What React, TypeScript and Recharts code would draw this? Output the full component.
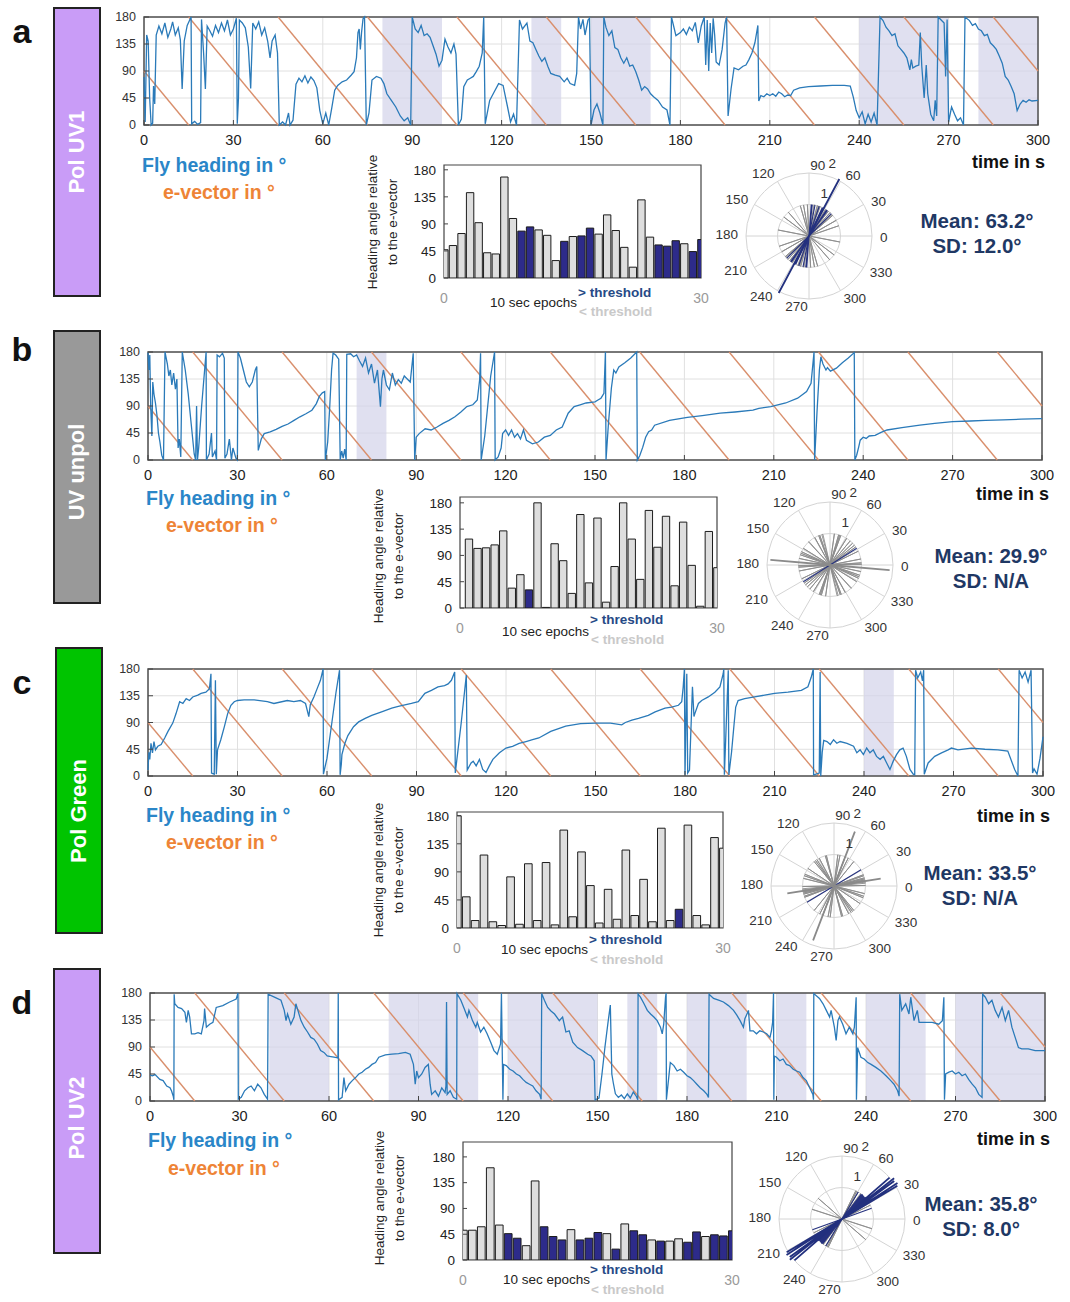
import React from "react"
import {
  LineChart, Line, XAxis, YAxis, CartesianGrid, ReferenceArea, ReferenceLine,
  BarChart, Bar, Cell, RadarChart, Radar, PolarGrid, PolarAngleAxis, PolarRadiusAxis,
} from "recharts"

const FONT = '"Liberation Sans", Arial, Helvetica, sans-serif'
const HEADING_BLUE = "#2a7ab9"
const EVEC_ORANGE = "#d98f6c"
const SHADE = "#d3d3ea"
const NAVY_BAR = "#2d2b8a"
const LIGHT_BAR = "#dedede"
const TEXT_NAVY = "#1f3864"
const PURPLE = "#c99cf7"

const timeTicks = [0, 30, 60, 90, 120, 150, 180, 210, 240, 270, 300]
const angleTicks = [0, 45, 90, 135, 180]
const spokes = [0, 30, 60, 90, 120, 150, 180, 210, 240, 270, 300, 330]

// e-vector sawtooth, same in every panel: [tStart, degStart, tEnd, degEnd]
const eVector = [
  [0, 90, 15, 0], [15, 180, 45, 0], [45, 180, 75, 0], [75, 180, 105, 0],
  [105, 180, 135, 0], [135, 180, 165, 0], [165, 180, 195, 0], [195, 180, 225, 0],
  [225, 180, 255, 0], [255, 180, 285, 0], [285, 180, 300, 90],
]

// fly heading [t (s), deg]
const headingA = [
  [0,80],[0.4,5],[0.9,150],[1.4,140],[1.9,45],[2.4,0],[2.9,3],[3.2,65],[3.6,35],[4.1,150],[5,165],[6,152],[7,170],[8,146],[9,160],[9.6,172],[10.5,150],[11.5,162],[12.2,142],[12.8,60],[13.5,140],[14.5,166],[15.8,180],[16,2],[17,6],[18,1],[19,4],[19.3,176],[20,120],[20.6,60],[21.2,165],[22,158],[23,148],[24,166],[25,154],[26,170],[27,157],[28,175],[29,150],[30,160],[31,178],[31.3,2],[31.7,45],[32,175],[33,170],[34,162],[35,130],[35.8,61],[36.5,170],[37.5,160],[38.5,172],[39.5,150],[40.5,162],[41.5,140],[42.3,112],[43,140],[44,150],[44.8,120],[45.4,0],[46.5,5],[47.5,0],[48.5,20],[49,0],[50,8],[51,68],[52,78],[53,72],[54,82],[55,70],[56,80],[57,74],[58,62],[59,24],[60,2],[61,20],[62,0],[63,28],[64,58],[65,66],[66.5,72],[68,75],[69.5,83],[70.5,89],[71.3,112],[71.8,154],[72.2,160],[72.6,126],[73,154],[73.5,177],[74,180],[74.6,0],[75.5,20],[76.5,75],[78,81],[79.5,78],[80.5,69],[81.5,52],[83,41],[84.5,30],[86,15],[87.3,7],[88.5,12],[89.5,0],[90,180],[91,160],[92,154],[93,166],[94,149],[95,152],[96,146],[97,132],[98,118],[99,98],[100,108],[101,143],[102,130],[103,120],[104,135],[104.7,118],[105.5,0],[106.5,10],[107.3,64],[108.5,75],[109.5,78],[110.5,81],[111.5,89],[112.5,98],[113.5,120],[114,180],[114.5,2],[116,41],[117.5,55],[119,69],[120.5,66],[122,30],[123,5],[124,18],[125,0],[126,175],[127,160],[128.5,170],[129.5,140],[130.5,137],[131.5,126],[132.5,115],[133.5,106],[134.5,112],[135.5,98],[136.5,86],[138,83],[139.5,81],[141,72],[142,78],[143,69],[144.5,66],[145.2,86],[145.8,180],[146.5,160],[147.3,176],[148,150],[149,175],[149.5,178],[150,0],[151,25],[152,35],[153,20],[154,0],[154.3,180],[155,163],[156,149],[157,157],[158,129],[159,126],[160,112],[161,103],[162,112],[163,98],[164,100],[165,89],[166,75],[167,58],[168,64],[169,60],[170,52],[171,47],[172.5,41],[174,30],[175.5,25],[176.5,0],[177,180],[178.5,149],[180,154],[181,160],[182,151],[183,163],[184,157],[185,171],[186,137],[187,165],[188,180],[188.5,100],[189,175],[189.5,90],[190,170],[190.5,120],[191,178],[191.5,150],[192,105],[193,100],[194,126],[195,170],[195.5,180],[196,15],[197,60],[198,95],[199.5,92],[201,98],[202,100],[203,109],[204,120],[205,137],[206,166],[206.3,40],[207,49],[208,47],[209,52],[210,49],[211,52],[212,48],[213,55],[214,52],[215,47],[216,50],[217,49],[218,58],[220,62],[223,64],[227,65],[231,66],[235,66],[237,65],[238,47],[239,24],[240,12],[241,22],[242,2],[243,18],[244,5],[245,20],[246,0],[247,180],[248,174],[249,163],[250,157],[251,149],[252,152],[253,132],[254,126],[255,120],[256,112],[257,92],[257.5,109],[258,95],[259,98],[260,100],[260.5,154],[261,98],[261.8,45],[262.5,100],[263,52],[264,18],[265,7],[265.5,41],[266,15],[266.5,180],[267.5,175],[268.5,170],[269,81],[269.5,176],[270,5],[271,30],[272,18],[273,7],[274,12],[275,0],[275.5,180],[277,174],[278,166],[279,169],[280,160],[281,157],[282,149],[283,151],[284,137],[285,132],[286,126],[287,115],[288,103],[289,81],[290,75],[291,64],[292,52],[293,24],[294,35],[295,41],[296,38],[297,42],[298,40],[300,41],
]

const headingB = [
  [0,179],[0.3,150],[0.6,175],[0.9,90],[1.3,40],[1.6,130],[2,110],[2.5,95],[3,75],[3.5,45],[4,30],[4.6,8],[5.2,0],[5.7,180],[6.5,160],[7,140],[7.5,150],[8,125],[8.6,145],[9.2,118],[9.7,135],[10.1,20],[10.5,35],[11,5],[11.5,180],[12.5,150],[13.5,110],[14.5,60],[15.5,10],[16,0],[16.3,90],[16.6,0],[17,20],[18,90],[19,150],[19.5,180],[19.6,0],[20.5,10],[21.3,45],[21.6,5],[22.5,15],[23,0],[23.2,175],[24,172],[25,178],[25.6,170],[25.8,3],[26.5,10],[27.3,35],[28,0],[28.5,20],[29.5,3],[30,0],[30.2,180],[31,170],[32,150],[33,130],[34,122],[35,130],[36,150],[36.5,156],[37,16],[38,35],[39,44],[41,47],[43,51],[45,56],[47,60],[49,66],[51,72],[53,77],[55,83],[56.5,94],[57.5,106],[58.5,112],[59.3,114],[59.5,0],[60.3,30],[61,90],[61.6,150],[62.1,178],[63,175],[64,168],[64.5,0],[65,15],[65.5,3],[66,18],[66.5,0],[66.7,176],[68,177],[69,172],[70,175],[71,165],[72,156],[73,170],[74,145],[75,160],[76,128],[77,150],[78,89],[78.5,135],[79,150],[80,125],[81,117],[82,145],[83,125],[84,134],[85,128],[86,140],[87,135],[88,130],[89,178],[89.5,0],[90,38],[91,44],[93,52],[95,50],[97,55],[99,61],[101,66],[103,72],[105,80],[107,89],[109,92],[110.5,100],[111.3,134],[111.6,178],[111.8,0],[113,40],[114,90],[115,140],[116.3,180],[116.5,0],[117.5,5],[118.5,20],[119,44],[120,50],[121,41],[122,50],[123,38],[124,44],[125,35],[126,50],[127,33],[129,27],[131,30],[133,38],[135,41],[137,50],[139,55],[141,78],[143,89],[145,92],[147,95],[150,97],[151,100],[152,103],[153,111],[153.5,180],[153.7,0],[154.5,60],[155.5,120],[156.3,150],[157,145],[158,155],[160,162],[162,170],[164,180],[164.2,0],[165,7],[166,21],[167,38],[168,47],[169,50],[170,58],[175,66],[181,71],[186,74],[192,78],[197,80],[203,83],[205,86],[209,89],[214,95],[218,103],[221,114],[222.5,128],[223.5,180],[223.7,0],[224.5,80],[225.3,150],[225.8,172],[226.5,160],[227.5,150],[228,154],[229,148],[231,153],[233,162],[235,170],[237,179],[237.2,0],[237.8,8],[238.5,22],[239,33],[240,38],[241,36],[242,40],[244,41],[246,46],[248,50],[253,54],[259,58],[264,61],[270,64],[276,65],[281,66],[287,67],[293,68],[300,69],
]

const headingC = [
  [0,10],[0.3,40],[0.6,28],[1,55],[1.5,39],[2,58],[2.5,44],[3.3,50],[4.4,53],[5.6,64],[6.7,75],[8.3,89],[9.4,105],[10.6,125],[11.7,122],[12.8,130],[13.9,127],[15,133],[16.7,136],[17.8,139],[19.4,141],[20.6,147],[21.1,172],[21.3,5],[22.2,3],[22.6,161],[22.9,3],[23.3,44],[24.4,61],[25.6,83],[26.7,105],[27.8,119],[28.9,125],[30,127],[32.2,128],[35.6,128],[40,125],[42.2,122],[46.7,127],[48.9,125],[51.1,127],[52.8,122],[53.9,100],[54.4,120],[55.6,133],[56.7,147],[57.8,161],[58.7,180],[58.8,3],[60,30],[61.5,85],[63,140],[64.2,178],[64.4,2],[64.8,20],[65,36],[66,55],[67,68],[68.9,83],[70.6,91],[72.8,97],[75,102],[78.3,108],[81.7,114],[83.9,117],[88.3,122],[90.6,125],[92.8,139],[95,144],[97.2,150],[99.4,152],[100.6,155],[101.7,161],[102.8,175],[103,5],[105,90],[106.7,170],[107,10],[108.3,22],[109,25],[110,17],[111.1,28],[112.2,11],[113.3,6],[114.4,17],[115.6,28],[117.8,39],[120,47],[122.2,50],[124.4,55],[126.7,58],[128.9,61],[131,64],[135,75],[140,84],[145,88],[150,89],[155,89],[158.8,86],[160,90],[162.2,94],[164.4,97],[167.7,102],[170,108],[173.3,114],[175.5,116],[177.8,119],[178.9,125],[179.4,150],[179.8,180],[180,2],[180.6,172],[180.9,5],[181.5,10],[182.5,150],[183,100],[183.3,105],[184.5,122],[185.6,127],[187.8,133],[190,141],[191.7,150],[192.8,172],[193,180],[193.2,2],[194.5,178],[194.7,2],[195.6,40],[196.5,90],[197,116],[197.8,127],[200,130],[203.3,133],[206.7,136],[210,139],[214.5,141],[219,144],[221.2,150],[222.3,166],[223,180],[223.1,2],[225,5],[225.3,175],[225.5,0],[226,40],[226.5,60],[227.6,58],[228.7,53],[229.8,61],[230.9,55],[232,58],[234.3,55],[236.5,50],[237.6,39],[238.7,44],[239.8,36],[240.9,47],[242,39],[243.1,44],[244.2,33],[245.4,28],[246.5,33],[247.6,22],[248.7,11],[249.8,25],[250.9,36],[252,44],[253.1,47],[254.2,33],[255.4,11],[256.5,3],[257,2],[257.3,178],[258,165],[259,175],[259.6,160],[260,178],[260.2,3],[261.5,22],[263.7,33],[266,39],[268.2,44],[269.3,47],[271.5,44],[276,47],[280.5,45],[284.9,44],[288.2,42],[290.5,11],[291.6,0],[292,178],[293,165],[294,175],[295,158],[296,178],[296.5,5],[297,12],[298,3],[299,30],[300,66],
]

const headingD = [
  [0,43],[0.8,42],[1.7,44],[3.3,36],[4.4,34],[5.6,25],[6.7,22],[7.2,17],[7.8,8],[8,2],[8.1,178],[8.3,162],[9.4,156],[10.6,154],[11.7,148],[12.2,131],[12.8,151],[13.3,140],[13.9,112],[15,112],[16.1,114],[17.2,112],[18.1,134],[18.3,154],[18.9,123],[20,128],[21.1,131],[22.2,156],[24.4,159],[26.7,165],[28.9,170],[29.5,180],[29.6,3],[30.6,6],[31.7,17],[32.8,22],[33.9,25],[35,17],[36.1,28],[37.2,22],[38.3,11],[39.4,3],[39.6,178],[41.7,173],[43.9,168],[45,151],[45.6,134],[46.1,145],[47.2,128],[48.3,140],[48.9,162],[49.4,154],[50.6,134],[51.7,123],[52.8,115],[53.9,106],[55,103],[56.1,95],[57.2,84],[58.3,81],[59.4,75],[60.6,74],[61.7,73],[62.8,72],[63,74],[63.1,180],[63.2,2],[64.4,6],[65,39],[65.6,17],[66.7,28],[67.8,34],[68.9,39],[70,45],[71.1,48],[72.2,53],[73.3,56],[74.4,61],[75.6,64],[76.7,73],[78.9,77],[81.1,78],[83.3,79],[85.6,81],[87.2,78],[88.3,61],[88.9,28],[89.4,50],[90,39],[91.1,45],[92.2,56],[93.3,61],[93.9,28],[94.4,11],[95.6,17],[96.7,8],[97.8,22],[98.9,14],[99.2,25],[99.4,165],[99.6,11],[100.6,17],[101.7,6],[102.8,3],[102.9,179],[104.2,168],[105.3,154],[106.4,140],[106.9,151],[108.1,134],[109.2,123],[109.7,131],[110.8,115],[111.9,123],[113,112],[114.2,98],[115.3,84],[116.4,78],[117.5,95],[117.8,179],[118.3,2],[118.5,61],[119.4,59],[120.6,53],[121.7,50],[122.8,45],[123.9,42],[125,36],[126.1,31],[127.2,28],[128.3,25],[129.4,17],[130.6,11],[131.1,3],[131.3,179],[132.2,168],[133.3,156],[134.4,150],[135.6,145],[137.2,134],[138.3,140],[139.4,115],[140.5,117],[141.7,98],[143.3,89],[145,84],[146.7,78],[147.8,75],[148.9,67],[149.2,2],[150.5,5],[151.5,45],[152.5,90],[153.5,130],[154.3,160],[154.8,45],[155.3,30],[156,12],[157,6],[158,10],[159,4],[160,12],[161,5],[162,15],[163,8],[163.5,2],[163.6,178],[164.4,173],[165.6,162],[166.7,151],[167.8,145],[168.9,140],[170,134],[171.1,123],[171.7,112],[172.2,128],[172.8,173],[173,180],[173.1,2],[174.4,64],[175.6,59],[176.7,50],[177.8,53],[178.9,48],[180,42],[181.1,39],[182.2,34],[183.3,28],[184.4,22],[185.6,17],[186.7,11],[187.2,6],[187.4,178],[188.9,171],[190.6,168],[192.2,165],[193.9,159],[195.6,151],[196.7,143],[197.8,134],[198.9,123],[199.4,137],[200.6,151],[201.1,117],[202.2,117],[203.3,112],[204.4,117],[205.6,115],[206.7,112],[207.8,106],[208.3,117],[208.7,131],[208.9,162],[209,180],[209.1,2],[209.3,75],[210,73],[211.1,67],[212.2,70],[213.3,61],[214.4,59],[215.6,53],[216.7,50],[217.8,48],[218.9,39],[220,34],[221.1,22],[222.2,11],[222.4,2],[222.5,179],[224.4,171],[225.6,162],[226.7,151],[227.8,140],[228.3,151],[229.4,123],[230,101],[230.6,134],[231.1,140],[232.2,128],[233.3,112],[234.4,123],[235.6,112],[236.1,123],[236.7,173],[236.8,2],[237.2,89],[238.3,73],[239.4,70],[240.6,64],[241.7,61],[243.3,56],[245,50],[246.7,42],[248.3,34],[249.4,28],[250.6,17],[251.1,8],[251.3,178],[252,151],[253.3,162],[254.4,145],[255,173],[256.1,134],[257.2,151],[257.8,131],[258.9,131],[260,131],[262.2,131],[264.4,128],[265.6,134],[266.1,173],[266.3,2],[266.7,45],[267.8,48],[268.9,50],[270,45],[271.1,48],[272.2,42],[273.3,45],[274.4,36],[275.6,28],[276.7,22],[277.8,11],[278.9,6],[279.1,178],[280,173],[281.1,162],[282.2,168],[283.3,151],[284.4,140],[285.6,156],[286.7,134],[287.8,151],[288.9,123],[290,106],[291.1,89],[292.2,87],[294.4,87],[296.7,84],[300,84],
]

// shaded (above threshold) epochs [start, end] in s
const shadedA = [[80, 100], [130, 140], [150, 170], [240, 270], [280, 300]]
const shadedB = [[70, 80]]
const shadedC = [[240, 250]]
const shadedD = [[40, 60], [80, 110], [120, 150], [160, 170], [180, 200], [210, 220], [240, 260], [270, 300]]

// heading angle relative to the e-vector, per 10 s epoch (0..30)
const barsA = [47, 54, 74, 142, 92, 42, 40, 168, 99, 78, 85, 80, 71, 29, 61, 69, 70, 83, 73, 105, 79, 51, 18, 130, 68, 55, 53, 62, 57, 44, 64]
const flagsA = [0, 0, 0, 0, 0, 0, 0, 0, 0, 1, 1, 0, 0, 0, 1, 0, 1, 1, 0, 0, 0, 0, 0, 0, 0, 1, 1, 1, 0, 1, 1]
const barsB = [0, 118, 102, 103, 108, 132, 34, 57, 31, 180, 1, 110, 81, 25, 160, 43, 154, 10, 71, 180, 118, 49, 167, 104, 157, 38, 147, 73, 3, 131, 69]
const flagsB = [0, 0, 0, 0, 0, 0, 0, 0, 1, 0, 0, 0, 0, 0, 0, 0, 0, 0, 0, 0, 0, 0, 0, 0, 0, 0, 0, 0, 0, 0, 0]
const barsC = [180, 50, 12, 117, 10, 4, 82, 6, 103, 12, 105, 5, 157, 18, 122, 68, 8, 62, 14, 125, 20, 78, 10, 160, 12, 30, 165, 20, 5, 145, 128]
const flagsC = [0, 0, 0, 0, 0, 0, 0, 0, 0, 0, 0, 0, 0, 0, 0, 0, 0, 0, 0, 0, 0, 0, 0, 0, 0, 1, 0, 0, 0, 0, 0]
const barsD = [52, 52, 58, 161, 61, 46, 38, 25, 138, 58, 41, 35, 53, 35, 38, 48, 46, 19, 63, 51, 44, 35, 33, 33, 37, 31, 49, 41, 44, 42, 51]
const flagsD = [0, 0, 0, 0, 0, 1, 1, 0, 0, 1, 1, 1, 0, 1, 1, 1, 0, 1, 0, 1, 1, 0, 1, 0, 0, 1, 1, 0, 1, 1, 1]

// long axial lines in the polar plots [angle, length]
const longA = [[61, 2.05]]
const longB = [[354, 1.9]]
const longC = [[8, 1.5], [248, 1.85]]
const longD = [[30, 2.05], [32, 2.1], [35, 2.05], [37, 2.1], [40, 2.0]]

const meanA = ["Mean: 63.2°", "SD: 12.0°"]
const meanB = ["Mean: 29.9°", "SD: N/A"]
const meanC = ["Mean: 33.5°", "SD: N/A"]
const meanD = ["Mean: 35.8°", "SD: 8.0°"]

const panels = [
  {
    letter: "a", letterY: 32, label: "Pol UV1", boxColor: PURPLE, box: [53, 7, 48, 290], boxTextY: 152,
    ts: { x: 144, y: 17, w: 894, h: 108 }, heading: headingA, shaded: shadedA,
    fly: [142, 165], evec: [163, 192], time: [1045, 162],
    bars: { x: 444, y: 165, w: 257, h: 113, yMax: 188 }, values: barsA, flags: flagsA,
    yLabel: [383, 222], epochs: [490, 303], above: [578, 293], below: [579, 312],
    polar: [809, 236], long: longA, longColor: "#22307e", mean: meanA, meanPos: [977, 221],
  },
  {
    letter: "b", letterY: 350, label: "UV unpol", boxColor: "#999999", box: [53, 330, 48, 274], boxTextY: 472,
    ts: { x: 148, y: 352, w: 894, h: 108 }, heading: headingB, shaded: shadedB,
    fly: [146, 498], evec: [166, 525], time: [1049, 494],
    bars: { x: 460, y: 497, w: 257, h: 111, yMax: 190 }, values: barsB, flags: flagsB,
    yLabel: [389, 556], epochs: [502, 632], above: [590, 620], below: [591, 640],
    polar: [830, 565], long: longB, longColor: "#8a8a8a", mean: meanB, meanPos: [991, 556],
  },
  {
    letter: "c", letterY: 683, label: "Pol Green", boxColor: "#00c400", box: [55, 647, 48, 287], boxTextY: 811,
    ts: { x: 148, y: 669, w: 895, h: 107 }, heading: headingC, shaded: shadedC,
    fly: [146, 815], evec: [166, 842], time: [1050, 816],
    bars: { x: 457, y: 812, w: 266, h: 116, yMax: 186 }, values: barsC, flags: flagsC,
    yLabel: [389, 870], epochs: [501, 950], above: [589, 940], below: [590, 960],
    polar: [834, 886], long: longC, longColor: "#8a8a8a", mean: meanC, meanPos: [980, 873],
  },
  {
    letter: "d", letterY: 1003, label: "Pol UV2", boxColor: PURPLE, box: [53, 968, 48, 286], boxTextY: 1118,
    ts: { x: 150, y: 993, w: 895, h: 108 }, heading: headingD, shaded: shadedD,
    fly: [148, 1140], evec: [168, 1168], time: [1050, 1139],
    bars: { x: 463, y: 1142, w: 269, h: 118, yMax: 206 }, values: barsD, flags: flagsD,
    yLabel: [390, 1198], epochs: [503, 1280], above: [590, 1270], below: [591, 1290],
    polar: [842, 1219], long: longD, longColor: "#22307e", mean: meanD, meanPos: [981, 1204],
  },
]

function Txt({ x, y, align = "left", children, style }: any) {
  const tx = align === "left" ? "0" : align === "center" ? "-50%" : "-100%"
  return (
    <div
      style={{
        position: "absolute", left: x, top: y, transform: `translate(${tx}, -50%)`,
        whiteSpace: "nowrap", fontFamily: FONT, lineHeight: 1.15, ...style,
      }}
    >
      {children}
    </div>
  )
}

function VTxt({ x, y, children, style }: any) {
  return (
    <div
      style={{
        position: "absolute", left: x, top: y, transform: "translate(-50%, -50%) rotate(-90deg)",
        whiteSpace: "nowrap", fontFamily: FONT, textAlign: "center", ...style,
      }}
    >
      {children}
    </div>
  )
}

function TimeSeries({ heading, shaded, x, y, w, h }: any) {
  const data = heading.map(([t, v]: number[]) => ({ t, v }))
  const padL = 40, padR = 18, padT = 10, padB = 30
  const frameTick = { stroke: "#444", strokeWidth: 1 }
  return (
    <div style={{ position: "absolute", left: x - padL, top: y - padT }}>
      <LineChart width={w + padL + padR} height={h + padT + padB} data={data}
        margin={{ top: padT, right: padR, bottom: 0, left: 0 }}>
        <CartesianGrid stroke="#e0e0e0" />
        {shaded.map(([a, b]: number[]) => (
          <ReferenceArea key={a} x1={a} x2={b} y1={0} y2={180} fill={SHADE} fillOpacity={0.7} stroke="none" />
        ))}
        <XAxis type="number" dataKey="t" domain={[0, 300]} ticks={timeTicks} interval={0} height={padB}
          tickSize={-5} tickMargin={15} axisLine={false} tickLine={frameTick}
          tick={{ fill: "#222", fontSize: 14.5, fontFamily: FONT }} />
        <XAxis xAxisId="top" orientation="top" type="number" dataKey="t" domain={[0, 300]} ticks={timeTicks}
          interval={0} height={0} tickSize={-5} axisLine={false} tickLine={frameTick} tickFormatter={() => ""} />
        <YAxis type="number" domain={[0, 180]} ticks={angleTicks} interval={0} width={padL}
          tickSize={-5} tickMargin={13} axisLine={false} tickLine={frameTick}
          tick={{ fill: "#333", fontSize: 12.5, fontFamily: FONT }} />
        <YAxis yAxisId="right" orientation="right" type="number" domain={[0, 180]} ticks={angleTicks}
          interval={0} width={0} tickSize={-5} axisLine={false} tickLine={frameTick} tickFormatter={() => ""} />
        {eVector.map((s) => (
          <ReferenceLine key={s[0]} segment={[{ x: s[0], y: s[1] }, { x: s[2], y: s[3] }]}
            stroke={EVEC_ORANGE} strokeWidth={1.4} />
        ))}
        <Line type="linear" dataKey="v" stroke={HEADING_BLUE} strokeWidth={1.3} dot={false}
          isAnimationActive={false} />
        <ReferenceArea x1={0} x2={300} y1={0} y2={180} fill="none" stroke="#505050" strokeWidth={1.5} />
      </LineChart>
    </div>
  )
}

function EpochBars({ values, flags, x, y, w, h, yMax }: any) {
  const data = values.map((v: number, k: number) => ({ k, v }))
  const padL = 36, padR = 16, padT = 10, padB = 30
  const unit = w / 30
  return (
    <div style={{ position: "absolute", left: x - padL, top: y - padT }}>
      <BarChart width={w + padL + padR} height={h + padT + padB} data={data}
        margin={{ top: padT, right: padR, bottom: 0, left: 0 }}>
        <XAxis type="number" dataKey="k" domain={[0, 30]} ticks={[0, 30]} interval={0} allowDataOverflow
          height={padB} axisLine={false} tickLine={false} tickMargin={9}
          tick={{ fill: "#9a9a9a", fontSize: 14, fontFamily: FONT }} />
        <YAxis type="number" domain={[0, yMax]} ticks={angleTicks} interval={0} allowDataOverflow width={padL}
          tickSize={-4} tickMargin={12} axisLine={false} tickLine={{ stroke: "#444" }}
          tick={{ fill: "#222", fontSize: 13.5, fontFamily: FONT }} />
        <YAxis yAxisId="right" orientation="right" type="number" domain={[0, yMax]} ticks={angleTicks}
          interval={0} width={0} tickSize={-4} axisLine={false} tickLine={{ stroke: "#444" }} tickFormatter={() => ""} />
        <Bar dataKey="v" barSize={unit * 0.86} stroke="#1c1c1c" strokeWidth={1} isAnimationActive={false}>
          {data.map((d: any, i: number) => (
            <Cell key={i} fill={flags[i] ? NAVY_BAR : LIGHT_BAR} />
          ))}
        </Bar>
        <ReferenceArea x1={0} x2={30} y1={0} y2={yMax} fill="none" stroke="#444" strokeWidth={1.2} />
      </BarChart>
    </div>
  )
}

const degrees = Array.from({ length: 360 }, (_, i) => i)

function roseRows(values: number[], flags: number[], long: number[][]) {
  return degrees.map((deg) => {
    const row: any = { deg, gray: 0, navy: 0, long: 0 }
    values.forEach((v, i) => {
      const a = Math.round(v) % 360
      if (deg === a || deg === (a + 180) % 360) {
        if (flags[i]) row.navy = 1
        else row.gray = 1
      }
    })
    long.forEach(([ang, r]) => {
      const a = Math.round(ang) % 360
      if (deg === a || deg === (a + 180) % 360) row.long = Math.max(row.long, r)
    })
    return row
  })
}

function AngleTick(props: any) {
  const { x, y, payload, textAnchor } = props
  if (payload.value % 30 !== 0) return <g />
  return (
    <text x={x} y={y} textAnchor={textAnchor} dominantBaseline="central" fill="#333" fontSize={13.5} fontFamily={FONT}>
      {payload.value}
    </text>
  )
}

function RadiusTick(props: any) {
  const { x, y, payload } = props
  if (payload.value === 0) return <g />
  return (
    <text x={x + 7} y={y - 12} textAnchor="middle" dominantBaseline="central" fill="#333" fontSize={13.5} fontFamily={FONT}>
      {payload.value}
    </text>
  )
}

function Rose({ values, flags, long, longColor, cx, cy }: any) {
  const data = roseRows(values, flags, long)
  const W = 230, H = 200
  return (
    <div style={{ position: "absolute", left: cx - W / 2, top: cy - H / 2 }}>
      <RadarChart width={W} height={H} cx={W / 2} cy={H / 2} outerRadius={63} startAngle={0} endAngle={360}
        data={data} margin={{ top: 0, right: 0, bottom: 0, left: 0 }}>
        <PolarGrid gridType="circle" polarAngles={spokes} polarRadius={[31.5, 63]} stroke="#d4d4d4" />
        <PolarAngleAxis dataKey="deg" tickLine={false} axisLine={false} tick={AngleTick} />
        <PolarRadiusAxis angle={75} domain={[0, 2]} tickCount={3} allowDataOverflow axisLine={false}
          tickLine={false} tick={RadiusTick} />
        <Radar dataKey="gray" stroke="#8c8c8c" strokeWidth={0.9} fill="none" fillOpacity={0}
          dot={false} isAnimationActive={false} />
        <Radar dataKey="navy" stroke="#26327f" strokeWidth={1.1} fill="none" fillOpacity={0}
          dot={false} isAnimationActive={false} />
        <Radar dataKey="long" stroke={longColor} strokeWidth={1.8} fill="none" fillOpacity={0}
          dot={false} isAnimationActive={false} />
      </RadarChart>
    </div>
  )
}

function Panel({ p }: any) {
  const [bx, by, bw, bh] = p.box
  return (
    <>
      <Txt x={22} y={p.letterY} align="center" style={{ fontSize: 34, fontWeight: 700, color: "#111" }}>{p.letter}</Txt>
      <div style={{
        position: "absolute", left: bx, top: by, width: bw, height: bh, background: p.boxColor,
        border: "2px solid #222", boxSizing: "border-box",
      }} />
      <VTxt x={bx + bw / 2} y={p.boxTextY} style={{ fontSize: 22, fontWeight: 700, color: "#fff" }}>{p.label}</VTxt>

      <TimeSeries heading={p.heading} shaded={p.shaded} {...p.ts} />

      <Txt x={p.fly[0]} y={p.fly[1]} style={{ fontSize: 19.5, fontWeight: 700, color: "#2a86c8" }}>Fly heading in °</Txt>
      <Txt x={p.evec[0]} y={p.evec[1]} style={{ fontSize: 19.5, fontWeight: 700, color: "#ee8436" }}>e-vector in °</Txt>
      <Txt x={p.time[0]} y={p.time[1]} align="right" style={{ fontSize: 18, fontWeight: 700, color: "#111" }}>time in s</Txt>

      <EpochBars values={p.values} flags={p.flags} {...p.bars} />
      <VTxt x={p.yLabel[0]} y={p.yLabel[1]} style={{ fontSize: 13.5, color: "#222", lineHeight: "20px" }}>
        Heading angle relative<br />to the e-vector
      </VTxt>
      <Txt x={p.epochs[0]} y={p.epochs[1]} style={{ fontSize: 13.5, color: "#222" }}>10 sec epochs</Txt>
      <Txt x={p.above[0]} y={p.above[1]} style={{ fontSize: 13.5, fontWeight: 700, color: "#264a86" }}>&gt; threshold</Txt>
      <Txt x={p.below[0]} y={p.below[1]} style={{ fontSize: 13.5, fontWeight: 700, color: "#c9c9c9" }}>&lt; threshold</Txt>

      <Rose values={p.values} flags={p.flags} long={p.long} longColor={p.longColor} cx={p.polar[0]} cy={p.polar[1]} />

      <Txt x={p.meanPos[0]} y={p.meanPos[1]} align="center" style={{ fontSize: 20.5, fontWeight: 700, color: TEXT_NAVY }}>{p.mean[0]}</Txt>
      <Txt x={p.meanPos[0]} y={p.meanPos[1] + 25} align="center" style={{ fontSize: 20.5, fontWeight: 700, color: TEXT_NAVY }}>{p.mean[1]}</Txt>
    </>
  )
}

export default function App() {
  return (
    <div style={{ position: "absolute", left: 0, top: 0, width: 1070, height: 1302, background: "#fff", fontFamily: FONT }}>
      {panels.map((p) => (
        <Panel key={p.letter} p={p} />
      ))}
    </div>
  )
}
